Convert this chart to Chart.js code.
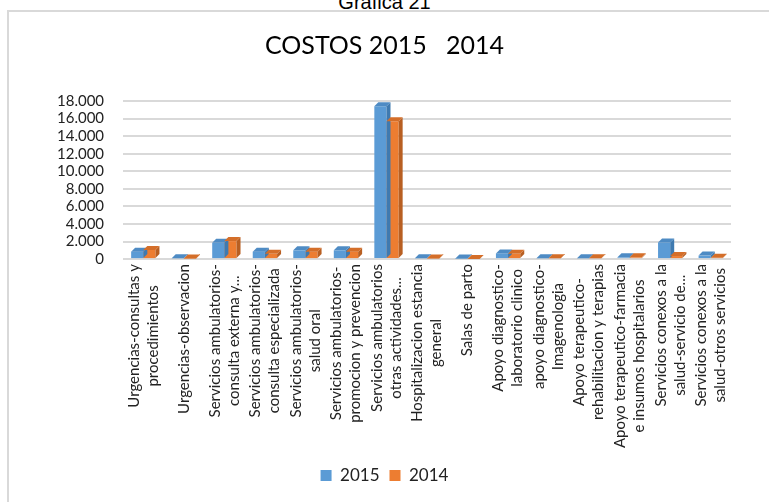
<!DOCTYPE html>
<html>
<head>
<meta charset="utf-8">
<script src="https://cdn.jsdelivr.net/npm/chart.js@4"></script>
<style>
  body { margin: 0; background: #fff; width: 769px; height: 502px; overflow: hidden; position: relative; }
  #cap { position: absolute; left: 0; width: 769px; top: -9px; text-align: center; font: 20px "Liberation Sans", Arial, sans-serif; color: #000; }
  #box { position: absolute; left: 7px; top: 10px; width: 770px; height: 500px; border: 2px solid #d9d9d9; box-sizing: border-box; }
  #wrap { position: absolute; left: 9px; top: 12px; width: 760px; height: 490px; }
</style>
</head>
<body>
<div id="cap">Grafica 21</div>
<div id="box"></div>
<div id="wrap"><canvas id="c"></canvas></div>
<script>
const categories = [
  ['Urgencias-consultas y', 'procedimientos'],
  ['Urgencias-observacion'],
  ['Servicios ambulatorios-', 'consulta externa y...'],
  ['Servicios ambulatorios-', 'consulta especializada'],
  ['Servicios ambulatorios-', 'salud oral'],
  ['Servicios ambulatorios-', 'promocion y prevencion'],
  ['Servicios ambulatorios', 'otras actividades...'],
  ['Hospitalizacion estancia', 'general'],
  ['Salas de parto'],
  ['Apoyo diagnostico-', 'laboratorio clinico'],
  ['apoyo diagnostico-', 'Imagenologia'],
  ['Apoyo terapeutico-', 'rehabilitacion y terapias'],
  ['Apoyo terapeutico-farmacia', 'e insumos hospitalarios'],
  ['Servicios conexos a la', 'salud-servicio de...'],
  ['Servicios conexos a la', 'salud-otros servicios']
];
const costos2015 = [850, 100, 1850, 850, 1000, 1000, 17400, 100, 60, 650, 100, 100, 200, 1900, 400];
const costos2014 = [1050, 60, 2050, 600, 850, 850, 15700, 80, 0, 600, 100, 100, 200, 350, 150];
const yTicks = [0, 2000, 4000, 6000, 8000, 10000, 12000, 14000, 16000, 18000];

const labelFont = '15px Lato';

// pseudo 3D faces on each bar
const depth = {
  id: 'depth',
  afterDatasetsDraw(chart) {
    const ctx = chart.ctx;
    const d = 4;
    chart.data.datasets.forEach((ds, i) => {
      const meta = chart.getDatasetMeta(i);
      meta.data.forEach(bar => {
        const l = bar.x - bar.width / 2, r = bar.x + bar.width / 2;
        const t = bar.y, b = bar.base;
        ctx.fillStyle = ds.sideColor;
        ctx.beginPath();
        ctx.moveTo(r, t); ctx.lineTo(r + d, t - d); ctx.lineTo(r + d, b - d); ctx.lineTo(r, b);
        ctx.closePath(); ctx.fill();
        ctx.fillStyle = ds.topColor;
        ctx.beginPath();
        ctx.moveTo(l, t); ctx.lineTo(l + d, t - d); ctx.lineTo(r + d, t - d); ctx.lineTo(r, t);
        ctx.closePath(); ctx.fill();
      });
    });
  }
};

// centred multi-line rotated category labels
const catLabels = {
  id: 'catLabels',
  afterDraw(chart) {
    const ctx = chart.ctx;
    const xs = chart.scales.x;
    ctx.save();
    ctx.font = labelFont;
    ctx.fillStyle = '#222';
    ctx.textAlign = 'center';
    ctx.textBaseline = 'middle';
    const lh = 19;
    chart.data.labels.forEach((lines, i) => {
      const x = xs.getPixelForTick(i);
      const w = Math.max(...lines.map(s => ctx.measureText(s).width));
      ctx.save();
      ctx.translate(x, xs.top + 5);
      ctx.rotate(-Math.PI / 2);
      lines.forEach((s, k) => {
        ctx.fillText(s, -w / 2, (k - (lines.length - 1) / 2) * lh);
      });
      ctx.restore();
    });
    ctx.restore();
  }
};

new Chart(document.getElementById('c'), {
  type: 'bar',
  data: {
    labels: categories,
    datasets: [
      { label: '2015', data: costos2015, backgroundColor: '#5B9BD5', sideColor: '#3F7AB0', topColor: '#4E8BC4' },
      { label: '2014', data: costos2014, backgroundColor: '#ED7D31', sideColor: '#B85F22', topColor: '#D46E29' }
    ]
  },
  options: {
    responsive: true,
    maintainAspectRatio: false,
    animation: false,
    layout: { padding: { left: 29, right: 38, top: 0, bottom: 8 } },
    datasets: { bar: { categoryPercentage: 0.6, barPercentage: 1 } },
    plugins: {
      title: {
        display: true,
        text: 'COSTOS 2015   2014',
        color: '#000',
        font: { family: 'Lato', size: 25, weight: 'normal' },
        padding: { top: 19, bottom: 40 }
      },
      legend: {
        position: 'bottom',
        labels: { color: '#222', font: { family: 'Lato', size: 17 }, boxWidth: 11, boxHeight: 11, padding: 10 }
      },
      tooltip: { enabled: false }
    },
    scales: {
      x: {
        grid: { display: false },
        border: { display: false },
        ticks: {
          color: 'rgba(0,0,0,0)',
          font: { family: 'Lato', size: 15 },
          minRotation: 90, maxRotation: 90, autoSkip: false, padding: 3
        }
      },
      y: {
        min: 0, max: 18000,
        afterBuildTicks(axis) { axis.ticks = yTicks.map(v => ({ value: v })); },
        grid: { color: '#d9d9d9', lineWidth: 2, drawTicks: false },
        border: { display: false },
        ticks: {
          color: '#222',
          autoSkip: false,
          font: { family: 'Lato', size: 15 },
          padding: 19,
          callback: v => v.toLocaleString('de-DE')
        }
      }
    }
  },
  plugins: [depth, catLabels]
});
</script>
</body>
</html>
